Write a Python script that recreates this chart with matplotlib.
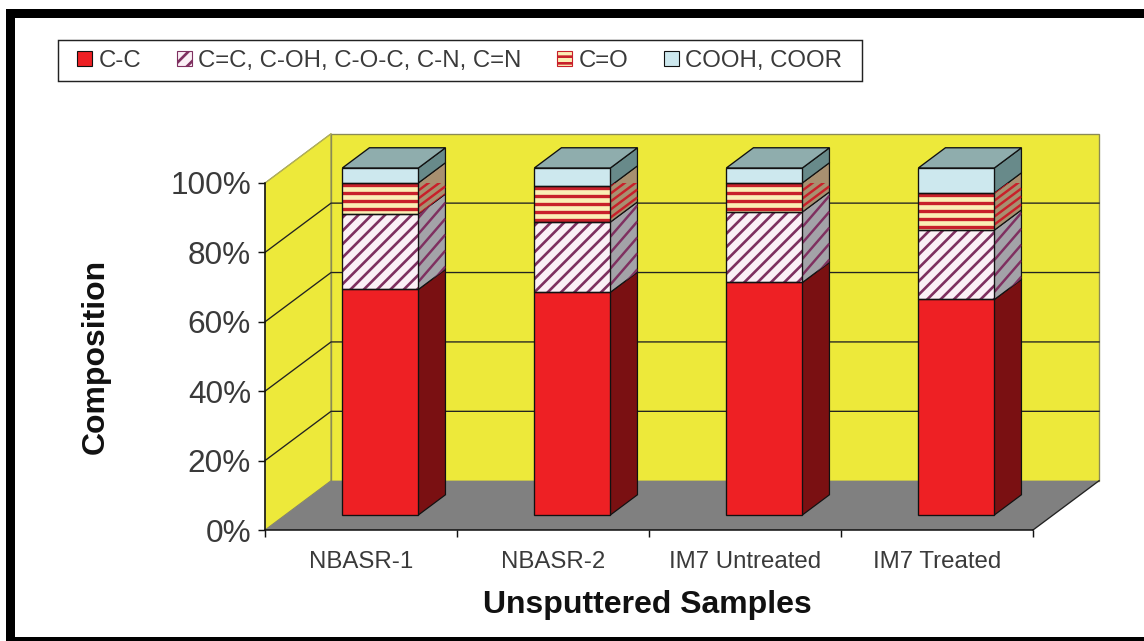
import matplotlib
matplotlib.use("Agg")
import matplotlib.pyplot as plt
from matplotlib.patches import Polygon, Patch, Rectangle
from matplotlib.collections import LineCollection
import numpy as np

categories = ["NBASR-1", "NBASR-2", "IM7 Untreated", "IM7 Treated"]
series_names = ["C-C", "C=C, C-OH, C-O-C, C-N, C=N", "C=O", "COOH, COOR"]
cc = [65.0, 64.2, 67.0, 62.1]
cx = [21.7, 20.2, 20.3, 20.0]
co = [9.0, 10.4, 8.4, 10.7]
cooh = [4.3, 5.2, 4.3, 7.2]
ytick_values = [0, 20, 40, 60, 80, 100]

W, H, DPI = 1144, 641, 80
def fs(px):
    return px * 72 / DPI

plt.rcParams["font.family"] = ["Liberation Sans", "DejaVu Sans"]
plt.rcParams["hatch.linewidth"] = 2.4
TXT = "#3A3A3A"
fig = plt.figure(figsize=(W / DPI, H / DPI), dpi=DPI, facecolor="white")
ax = fig.add_axes([265 / W, (H - 530) / H, 768 / W, 347 / H])
ax.set_xlim(0, 4)
ax.set_ylim(0, 100)
ax.patch.set_visible(False)

DX, DY = 0.344, 14.2
def P(x, y, d=0.0):
    return (x + d * DX, y + d * DY)

WALL = "#EDE93A"
EDGE = "#8A8A55"
ax.add_patch(Polygon([P(0, 0), P(0, 100), P(0, 100, 1), P(0, 0, 1)], closed=True, fc=WALL, ec=EDGE, lw=1, clip_on=False, zorder=1))
ax.add_patch(Polygon([P(0, 0, 1), P(0, 100, 1), P(4, 100, 1), P(4, 0, 1)], closed=True, fc=WALL, ec=EDGE, lw=1.2, clip_on=False, zorder=1))
ax.add_patch(Polygon([P(0, 0), P(4, 0), P(4, 0, 1), P(0, 0, 1)], closed=True, fc="#808080", ec="none", clip_on=False, zorder=1.1))
ax.plot(*zip(P(4, 0), P(4, 0, 1)), color="#222222", lw=1.2, clip_on=False, zorder=1.2)
for v in ytick_values[1:-1]:
    ax.plot(*zip(P(0, v), P(0, v, 1), P(4, v, 1)), color="#222222", lw=1.2, clip_on=False, zorder=1.2)
ax.plot(*zip(P(0, 100), P(0, 100, 1)), color="#B5B35A", lw=1, clip_on=False, zorder=1.2)

D0, D1 = 0.305, 0.715
BW = 0.396
CENTER = 0.496
styles = [
    dict(front="#EE2024", side="#7A1012", hatch=None, hc=None),
    dict(front="#FBF0F6", side="#A3A3A8", hatch="//", hc="#7F3060"),
    dict(front="#FBEFB5", side="#A89070", hatch="--", hc="#C8202A"),
    dict(front="#CDE8EE", side="#688A8A", hatch=None, hc=None),
]
STRIPE = 2.3
stack = np.array([cc, cx, co, cooh])
z = 3
for i in range(len(categories)):
    xl = i + CENTER - BW / 2
    xr = i + CENTER + BW / 2
    base = 0.0
    for s, st in enumerate(styles):
        v = stack[s, i]
        top = base + v
        side = Polygon([P(xr, base, D0), P(xr, base, D1), P(xr, top, D1), P(xr, top, D0)],
                       closed=True, fc=st["side"], ec="#111111", lw=1.1, clip_on=False, zorder=z)
        ax.add_patch(side)
        if st["hatch"] == "--":
            yy = np.arange(top + 30, base - 30, -STRIPE)
            segs = [[P(xr, q, D0), P(xr, q, D1)] for q in yy]
        elif st["hatch"]:
            yy = np.arange(base - 30, top + 30, 4.6)
            segs = [[P(xr, q, D0), P(xr, q + 3.2, D1)] for q in yy]
        if st["hatch"]:
            lc = LineCollection(segs, colors=st["hc"], linewidths=2.2, zorder=z + 0.1, clip_on=True)
            ax.add_collection(lc, autolim=False)
            lc.set_clip_path(side)
        front = Rectangle(P(xl, base, D0), BW, v, fc=st["front"], ec="none", clip_on=False, zorder=z + 0.2)
        ax.add_patch(front)
        if st["hatch"] == "--":
            y0 = P(xl, base, D0)[1]
            yy = np.arange(y0 + v - 0.6, y0, -STRIPE)
            x0 = P(xl, base, D0)[0]
            lc = LineCollection([[(x0, q), (x0 + BW, q)] for q in yy], colors=st["hc"],
                                linewidths=3.0, zorder=z + 0.25, clip_on=False)
            ax.add_collection(lc, autolim=False)
        elif st["hatch"]:
            ax.add_patch(Rectangle(P(xl, base, D0), BW, v, fc="none", ec=st["hc"], hatch=st["hatch"], lw=0, clip_on=False, zorder=z + 0.25))
        ax.add_patch(Rectangle(P(xl, base, D0), BW, v, fc="none", ec="#111111", lw=1.2, clip_on=False, zorder=z + 0.3))
        base = top
    ax.add_patch(Polygon([P(xl, base, D0), P(xr, base, D0), P(xr, base, D1), P(xl, base, D1)],
                         closed=True, fc="#8FADAD", ec="#111111", lw=1.2, clip_on=False, zorder=z + 0.4))
    z += 1

for sp in ("top", "right"):
    ax.spines[sp].set_visible(False)
for sp in ("left", "bottom"):
    ax.spines[sp].set_linewidth(1.4)
    ax.spines[sp].set_color("#111111")
    ax.spines[sp].set_zorder(20)

ax.set_yticks(ytick_values)
ax.set_yticklabels([f"{v}%" for v in ytick_values], fontsize=fs(31.5), color=TXT)
ax.set_xticks(range(5))
ax.set_xticklabels([])
ax.set_xticks([i + 0.5 for i in range(4)], labels=categories, minor=True, fontsize=fs(24), color=TXT)
ax.tick_params(axis="x", which="major", length=fs(7), width=1.3, color="#111111")
ax.tick_params(axis="x", which="minor", length=0, pad=fs(21))
ax.tick_params(axis="y", length=fs(7), width=1.3, color="#111111", pad=fs(7))

fig.text(647 / W, 1 - 605 / H, "Unsputtered Samples", fontsize=fs(32), fontweight="bold", color="#111111", ha="center", va="center")
fig.text(96 / W, 1 - 356 / H, "Composition", fontsize=fs(32), fontweight="bold", color="#111111", ha="center", va="center", rotation=90)

handles = [Patch(fc=st["front"], ec="#111111", lw=1, hatch=st["hatch"]) for st in styles]
for h, st in zip(handles, styles):
    if st["hatch"]:
        h.set_edgecolor(st["hc"])
fig.add_artist(Rectangle((58 / W, 1 - 81 / H), (862 - 58) / W, 41 / H, transform=fig.transFigure,
                         fc="white", ec="#222222", lw=1.3))
leg = fig.legend(handles, series_names, ncol=4, loc="center left",
                 bbox_to_anchor=(77 / W, 1 - 61 / H), borderaxespad=0, frameon=False,
                 fontsize=fs(24), handlelength=0.625, handleheight=0.625, handletextpad=0.28,
                 columnspacing=1.47, borderpad=0, labelcolor=TXT)

# black picture frame: top, left and bottom bands
for x, y, w, h in [(6, 9, W - 6, 9), (6, 9, 9, H - 9), (6, 637, W - 6, 4)]:
    fig.add_artist(Rectangle((x / W, 1 - (y + h) / H), w / W, h / H, transform=fig.transFigure,
                             fc="black", ec="none", zorder=30))

fig.savefig("out.png", dpi=DPI)
